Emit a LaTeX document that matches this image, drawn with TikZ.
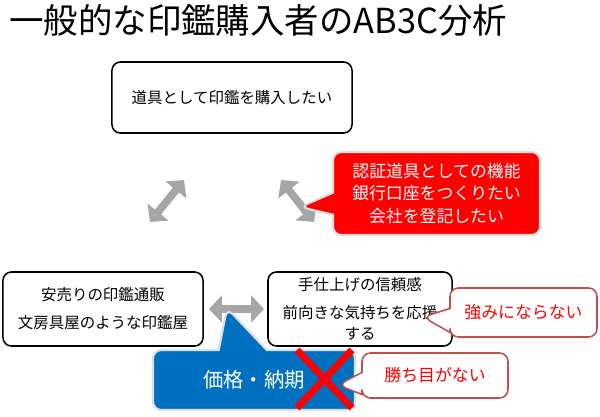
\documentclass[tikz,border=0pt]{standalone}
\usepackage{fontspec}
\setmainfont{Noto Sans CJK JP}
\usetikzlibrary{arrows.meta,shapes.callouts,positioning}
\definecolor{calloutred}{HTML}{FF0000}
\definecolor{calloutblue}{HTML}{0070C0}
\definecolor{edgered}{HTML}{C0504D}
\definecolor{arrowgray}{HTML}{A6A6A6}
\begin{document}
\begin{tikzpicture}[x=0.025cm, y=-0.025cm,
				box/.style={draw=black, line width=1.1pt, rounded corners=6pt, fill=white, align=center, font=\fontsize{11}{20}\selectfont},
				dblarrow/.style={arrowgray, line width=5.5pt, {Triangle[width=0.66cm,length=0.32cm]}-{Triangle[width=0.66cm,length=0.32cm]}},
				callbase/.style={rectangle callout, rounded corners=6pt, align=center, inner sep=0pt},
				redcall/.style={callbase, fill=calloutred, draw=gray!25, line width=1.5pt, text=white, font=\fontsize{12}{16}\selectfont},
				bluecall/.style={callbase, fill=calloutblue, draw=gray!25, line width=1.5pt, text=white, font=\fontsize{14.5}{18}\selectfont},
				notecall/.style={callbase, fill=white, draw=edgered, line width=1.1pt, text=calloutred, font=\fontsize{12}{16}\selectfont}]
				
				\useasboundingbox (0,0) rectangle (600,416);
				
				% --- 1. タイトル ---
				\node[anchor=west, inner sep=0pt, font=\fontsize{24.5}{28}\selectfont] (title) at (9,20) {一般的な印鑑購入者のAB3C分析};
				
				% --- 2. 三つの箱 ---
				\node[box, minimum width=6cm, minimum height=1.775cm] (tool) at (232,97.5) {道具として印鑑を購入したい};
				\node[box, minimum width=5cm, minimum height=1.85cm] (cheap) at (103,309) {安売りの印鑑通販\\文房具屋のような印鑑屋};
				\node[box, minimum width=4.6cm, minimum height=1.85cm, font=\fontsize{11}{15}\selectfont] (craft) at (360,309) {手仕上げの信頼感\\[5pt]前向きな気持ちを応援\\する};
				
				% --- 3. 灰色の両矢印 ---
				\coordinate (la1) at (150,222);
				\coordinate (la2) at (184,180);
				\coordinate (ra1) at (281,180);
				\coordinate (ra2) at (314,222);
				\coordinate (ha1) at (209,309);
				\coordinate (ha2) at (264,309);
				\draw[dblarrow] (la1) -- (la2);
				\draw[dblarrow] (ra1) -- (ra2);
				\draw[dblarrow] (ha1) -- (ha2);
				
				% --- 4. 吹き出し ---
				\coordinate (redtip) at (300,207);
				\node[redcall, minimum width=5.175cm, minimum height=2.075cm, callout absolute pointer={(redtip)}, callout pointer width=0.55cm] (auth) at (436.5,193.5) {認証道具としての機能\\銀行口座をつくりたい\\会社を登記したい};
				
				\coordinate (weaktip) at (423,317);
				\node[notecall, minimum width=3.675cm, minimum height=1.225cm, callout absolute pointer={(weaktip)}, callout pointer width=0.6cm] (weak) at (523.5,312.5) {強みにならない};
				
				\coordinate (bluetip) at (227,308);
				\node[bluecall, minimum width=5.05cm, minimum height=1.5cm, callout absolute pointer={(bluetip)}, callout pointer width=1.2cm] (price) at (254,380) {価格・納期};
				
				\coordinate (losetip) at (338,385);
				\node[notecall, minimum width=3.65cm, minimum height=1.125cm, callout absolute pointer={(losetip)}, callout pointer width=0.55cm] (lose) at (435,375.5) {勝ち目がない};
				
				% --- 5. 赤いバツ印 ---
				\coordinate (x1) at (297,350);
				\coordinate (x2) at (352,408);
				\coordinate (x3) at (352,350);
				\coordinate (x4) at (297,408);
				\draw[calloutred, line width=5pt] (x1) -- (x2);
				\draw[calloutred, line width=5pt] (x3) -- (x4);
				
			\end{tikzpicture}
\end{document}
